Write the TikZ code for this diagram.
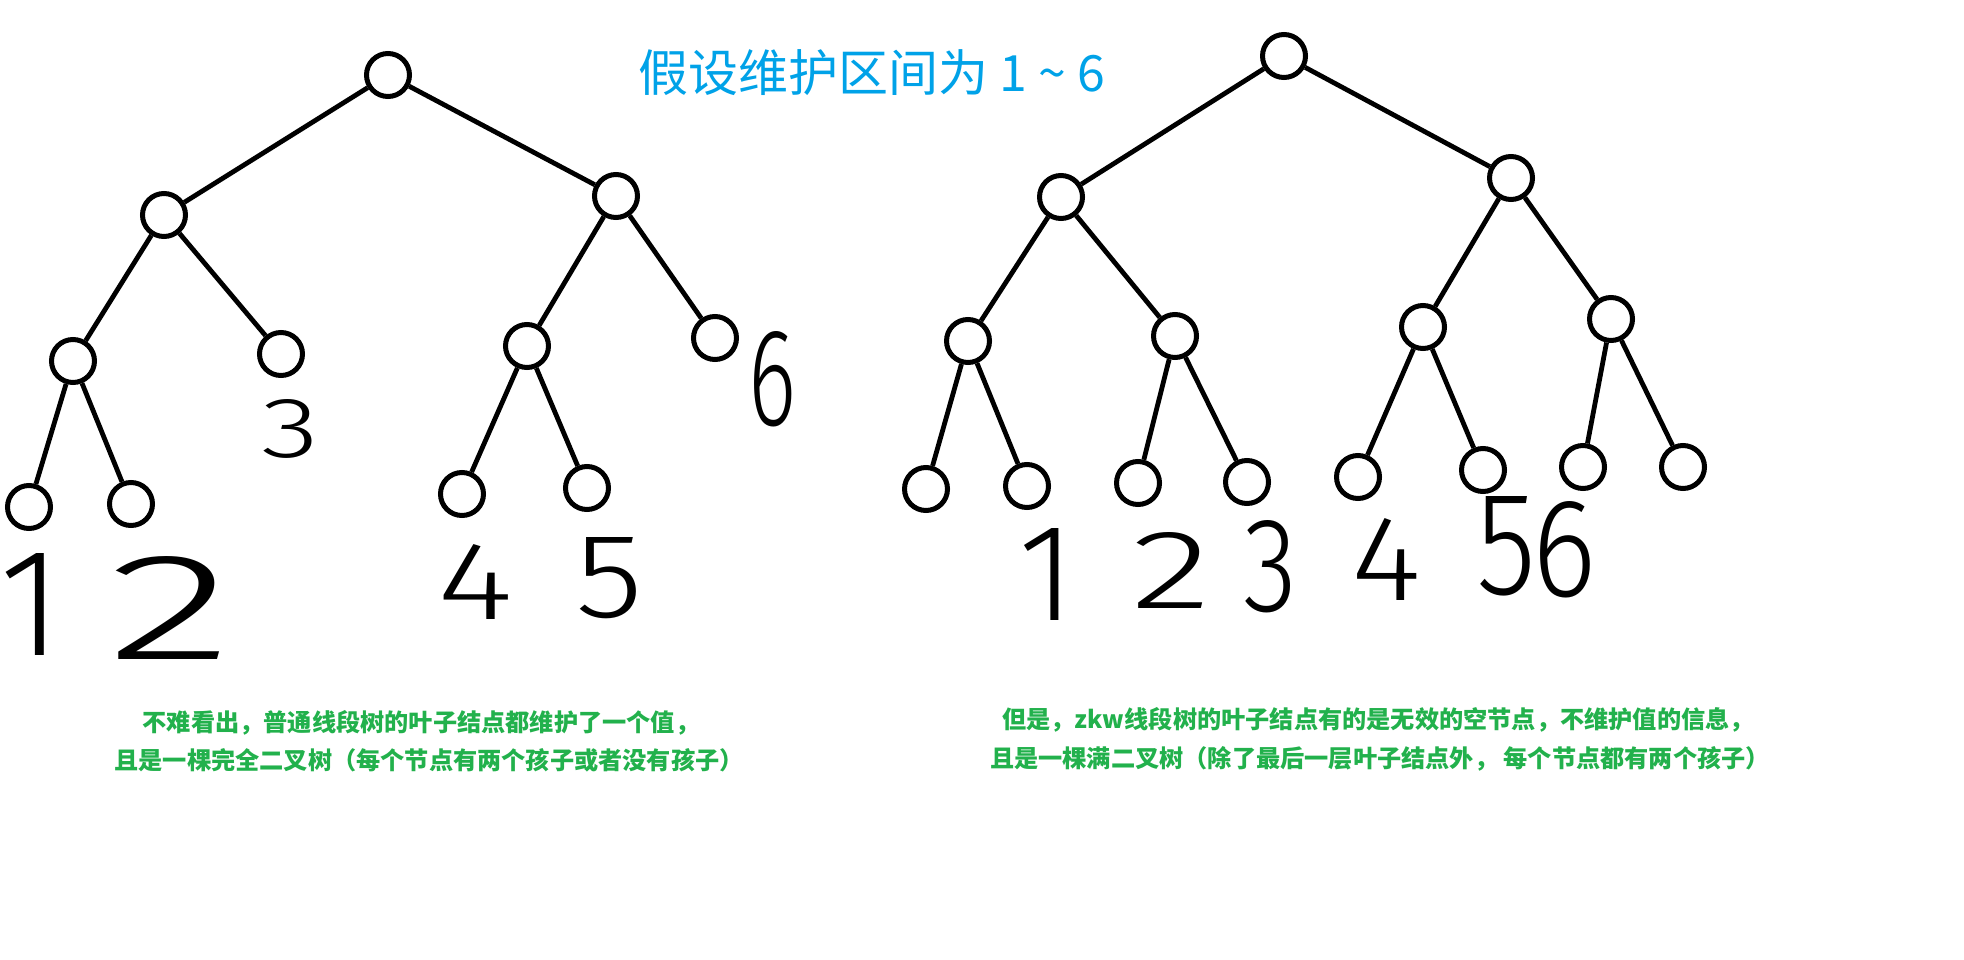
\documentclass[tikz,border=0pt]{standalone}
\usepackage{fontspec}
\newfontfamily\cjk{Noto Sans CJK SC}
\newfontfamily\hand{Fira Sans Light}
\definecolor{titleblue}{RGB}{0,162,232}
\definecolor{notegreen}{RGB}{34,177,76}
\newcommand{\dg}[3]{\resizebox{#1}{#2}{#3}}
\begin{document}
\begin{tikzpicture}[x=1pt,y=-1pt,
  tnode/.style={circle,draw=black,line width=5pt,minimum size=43pt,inner sep=0pt,fill=white},
  tedge/.style={line width=4.8pt,draw=black},
  digit/.style={inner sep=0pt,anchor=center,text=black,font=\hand\fontsize{100pt}{100pt}\selectfont},
  note/.style={text=notegreen,font=\cjk\bfseries\fontsize{24.2pt}{30pt}\selectfont,inner sep=0pt},
  ]
\useasboundingbox[fill=white] (0,0) rectangle (1964,960);
% ---------- left tree ----------
\node[tnode] (lR) at (388,75) {};
\node[tnode] (lA) at (164,215) {};
\node[tnode] (lB) at (616,196) {};
\node[tnode] (lC) at (73,361) {};
\node[tnode] (lD) at (281,354) {};
\node[tnode] (lE) at (527,346) {};
\node[tnode] (lF) at (715,338) {};
\node[tnode] (lG) at (29,507) {};
\node[tnode] (lH) at (131,504) {};
\node[tnode] (lI) at (462,494) {};
\node[tnode] (lJ) at (587,488) {};
\draw[tedge] (lR) -- (lA);
\draw[tedge] (lR) -- (lB);
\draw[tedge] (lA) -- (lC);
\draw[tedge] (lA) -- (lD);
\draw[tedge] (lB) -- (lE);
\draw[tedge] (lB) -- (lF);
\draw[tedge] (lC) -- (lG);
\draw[tedge] (lC) -- (lH);
\draw[tedge] (lE) -- (lI);
\draw[tedge] (lE) -- (lJ);
% left digits
\node[digit] (ld1) at (31,604) {\dg{!}{102pt}{1}};
\node[digit] (ld2) at (170,608) {\dg{126pt}{103pt}{2}};
\node[digit] (ld3) at (290,429) {\dg{58pt}{58pt}{3}};
\node[digit] (ld4) at (475,582) {\dg{76pt}{75pt}{4}};
\node[digit] (ld5) at (609,578) {\dg{68pt}{80pt}{5}};
\node[digit] (ld6) at (772,379) {\dg{48pt}{94pt}{6}};
% ---------- right tree ----------
\node[tnode] (rR) at (1284,56) {};
\node[tnode] (rA) at (1061,197) {};
\node[tnode] (rB) at (1511,178) {};
\node[tnode] (rC) at (968,341) {};
\node[tnode] (rD) at (1175,336) {};
\node[tnode] (rE) at (1423,327) {};
\node[tnode] (rF) at (1611,319) {};
\node[tnode] (r1) at (926,489) {};
\node[tnode] (r2) at (1027,486) {};
\node[tnode] (r3) at (1138,483) {};
\node[tnode] (r4) at (1247,482) {};
\node[tnode] (r5) at (1358,477) {};
\node[tnode] (r6) at (1483,470) {};
\node[tnode] (r7) at (1583,467) {};
\node[tnode] (r8) at (1683,467) {};
\draw[tedge] (rR) -- (rA);
\draw[tedge] (rR) -- (rB);
\draw[tedge] (rA) -- (rC);
\draw[tedge] (rA) -- (rD);
\draw[tedge] (rB) -- (rE);
\draw[tedge] (rB) -- (rF);
\draw[tedge] (rC) -- (r1);
\draw[tedge] (rC) -- (r2);
\draw[tedge] (rD) -- (r3);
\draw[tedge] (rD) -- (r4);
\draw[tedge] (rE) -- (r5);
\draw[tedge] (rE) -- (r6);
\draw[tedge] (rF) -- (r7);
\draw[tedge] (rF) -- (r8);
% right digits
\node[digit] (rd1) at (1047,574) {\dg{!}{92pt}{1}};
\node[digit] (rd2) at (1171,570) {\dg{80pt}{76pt}{2}};
\node[digit] (rd3) at (1270,567) {\dg{54pt}{91pt}{3}};
\node[digit] (rd4) at (1386,559) {\dg{70pt}{82pt}{4}};
\node[digit] (rd5) at (1506,546) {\dg{60pt}{98pt}{5}};
\node[digit] (rd6) at (1564,550) {\dg{64pt}{95pt}{6}};
% ---------- title ----------
\node[text=titleblue,font=\cjk\fontsize{50pt}{56pt}\selectfont,inner sep=0pt] (title) at (872,73) {假设维护区间为 1 \char"007E{} 6};
% ---------- notes ----------
\node[note] (n1) at (421,723) {不难看出，普通线段树的叶子结点都维护了一个值，};
\node[note] (n2) at (429,760) {且是一棵完全二叉树（每个节点有两个孩子或者没有孩子）};
\node[note] (n3) at (1378,720) {但是，zkw线段树的叶子结点有的是无效的空节点，不维护值的信息，};
\node[note] (n4) at (1380,759) {且是一棵满二叉树（除了最后一层叶子结点外， 每个节点都有两个孩子）};
\end{tikzpicture}
\end{document}
